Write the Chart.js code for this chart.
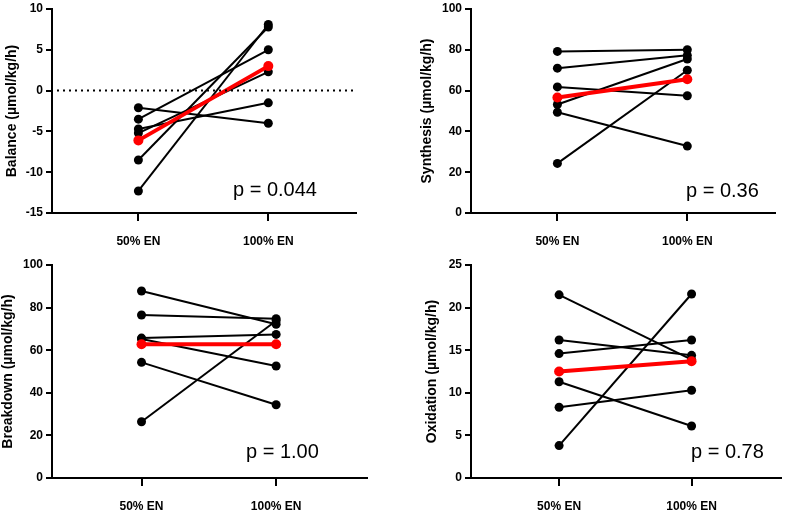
<!DOCTYPE html>
<html>
<head>
<meta charset="utf-8">
<script src="https://cdn.jsdelivr.net/npm/chart.js@4/dist/chart.umd.min.js"></script>
<style>
html,body{margin:0;padding:0;background:#fff;}
#wrap{position:relative;width:786px;height:513px;overflow:hidden;background:#fff;}
canvas{position:absolute;}
</style>
</head>
<body>
<div id="wrap">
<canvas id="c1" width="393" height="256" style="left:0;top:0"></canvas>
<canvas id="c2" width="393" height="256" style="left:393px;top:0"></canvas>
<canvas id="c3" width="393" height="257" style="left:0;top:256px"></canvas>
<canvas id="c4" width="393" height="257" style="left:393px;top:256px"></canvas>
</div>
<script>
// ---- data ----
const categories = ['50% EN', '100% EN'];
const xTickValues = [1, 2];

const balance50 = [-2.1, -3.5, -4.7, -5.2, -8.5, -12.3];
const balance100 = [-4.0, 5.0, -1.5, 2.3, 7.8, 8.1];
const balanceMean = [-6.1, 3.0];
const balanceTicks = [-15, -10, -5, 0, 5, 10];

const synthesis50 = [79.2, 71.0, 61.8, 53.2, 49.4, 24.3];
const synthesis100 = [80.0, 77.3, 57.5, 75.5, 32.8, 70.0];
const synthesisMean = [56.6, 65.6];
const synthesisTicks = [0, 20, 40, 60, 80, 100];

const breakdown50 = [87.8, 76.5, 65.7, 65.3, 54.3, 26.4];
const breakdown100 = [72.2, 74.8, 67.4, 52.6, 34.4, 73.8];
const breakdownMean = [62.8, 62.8];
const breakdownTicks = [0, 20, 40, 60, 80, 100];

const oxidation50 = [21.5, 16.2, 14.6, 11.3, 8.3, 3.8];
const oxidation100 = [13.9, 14.4, 16.2, 6.1, 10.3, 21.6];
const oxidationMean = [12.5, 13.7];
const oxidationTicks = [0, 5, 10, 15, 20, 25];

const panelTitles = ['Balance (\u00b5mol/kg/h)', 'Synthesis (\u00b5mol/kg/h)', 'Breakdown (\u00b5mol/kg/h)', 'Oxidation (\u00b5mol/kg/h)'];
const pValues = ['p = 0.044', 'p = 0.36', 'p = 1.00', 'p = 0.78'];

// ---- helpers ----
const FONT = "'Liberation Sans', Arial, sans-serif";

function buildDatasets(a, b, mean) {
  const ds = [{
    data: [{x: xTickValues[0], y: mean[0]}, {x: xTickValues[1], y: mean[1]}],
    borderColor: '#ff0000', backgroundColor: '#ff0000',
    borderWidth: 4, pointRadius: 5, pointBorderWidth: 0, showLine: true
  }];
  for (let i = 0; i < a.length; i++) {
    ds.push({
      data: [{x: xTickValues[0], y: a[i]}, {x: xTickValues[1], y: b[i]}],
      borderColor: '#000', backgroundColor: '#000',
      borderWidth: 2, pointRadius: 4.5, pointBorderWidth: 0, showLine: true
    });
  }
  return ds;
}

function makeChart(id, cfg) {
  const pPlugin = {
    id: 'ptext' + id,
    afterDraw(chart) {
      const ctx = chart.ctx;
      ctx.save();
      if (cfg.zeroLine) {
        const y = chart.scales.y.getPixelForValue(0);
        ctx.strokeStyle = '#000';
        ctx.lineWidth = 2;
        ctx.setLineDash([2, 4]);
        ctx.beginPath();
        ctx.moveTo(chart.chartArea.left + 5, y);
        ctx.lineTo(chart.chartArea.right - 3, y);
        ctx.stroke();
        ctx.setLineDash([]);
      }
      ctx.fillStyle = '#000';
      ctx.font = '20px ' + FONT;
      ctx.textAlign = 'left';
      ctx.textBaseline = 'middle';
      ctx.fillText(cfg.p, cfg.px, cfg.py);
      ctx.restore();
    }
  };
  return new Chart(document.getElementById(id), {
    type: 'scatter',
    data: { datasets: buildDatasets(cfg.a, cfg.b, cfg.mean) },
    options: {
      responsive: false,
      animation: false,
      devicePixelRatio: 1,
      layout: { padding: cfg.padding },
      plugins: { legend: { display: false }, tooltip: { enabled: false } },
      scales: {
        x: {
          type: 'linear', min: 0.335, max: 2.675,
          afterBuildTicks: s => { s.ticks = xTickValues.map(v => ({value: v})); },
          afterFit: s => { s.height = cfg.xh; },
          ticks: {
            callback: v => categories[xTickValues.indexOf(v)] || '',
            color: '#000', font: { family: FONT, size: 12, weight: 'bold' },
            padding: 13, maxRotation: 0, autoSkip: false
          },
          grid: { display: true, drawOnChartArea: false, drawTicks: true, tickLength: 8, color: '#000', lineWidth: 2 },
          border: { display: true, color: '#000', width: 2 }
        },
        y: {
          type: 'linear', min: cfg.ticks[0], max: cfg.ticks[cfg.ticks.length - 1],
          afterBuildTicks: s => { s.ticks = cfg.ticks.map(v => ({value: v})); },
          afterFit: s => { s.width = cfg.yw; },
          ticks: { color: '#000', font: { family: FONT, size: 12, weight: 'bold', lineHeight: 1 }, padding: 3 },
          grid: { display: true, drawOnChartArea: false, drawTicks: true, tickLength: 6, color: '#000', lineWidth: 2 },
          border: { display: true, color: '#000', width: 2 },
          title: { display: true, text: cfg.title, color: '#000', font: { family: FONT, size: 14, weight: 'bold' }, padding: cfg.tpad }
        }
      }
    },
    plugins: [pPlugin]
  });
}

makeChart('c1', { a: balance50, b: balance100, mean: balanceMean, ticks: balanceTicks, title: panelTitles[0],
  padding: {left: 0, top: 6, right: 37, bottom: 0}, yw: 52, xh: 43, tpad: 4, zeroLine: true,
  p: pValues[0], px: 233, py: 190 });
makeChart('c2', { a: synthesis50, b: synthesis100, mean: synthesisMean, ticks: synthesisTicks, title: panelTitles[1],
  padding: {left: 22, top: 5, right: 11, bottom: 0}, yw: 56, xh: 43, tpad: 4,
  p: pValues[1], px: 293, py: 191 });
makeChart('c3', { a: breakdown50, b: breakdown100, mean: breakdownMean, ticks: breakdownTicks, title: panelTitles[2],
  padding: {left: 0, top: 7, right: 26, bottom: 0}, yw: 52, xh: 35, tpad: 0,
  p: pValues[2], px: 246, py: 196 });
makeChart('c4', { a: oxidation50, b: oxidation100, mean: oxidationMean, ticks: oxidationTicks, title: panelTitles[3],
  padding: {left: 27, top: 7, right: 3, bottom: 0}, yw: 51, xh: 35, tpad: 4,
  p: pValues[3], px: 298, py: 196 });
</script>
</body>
</html>
